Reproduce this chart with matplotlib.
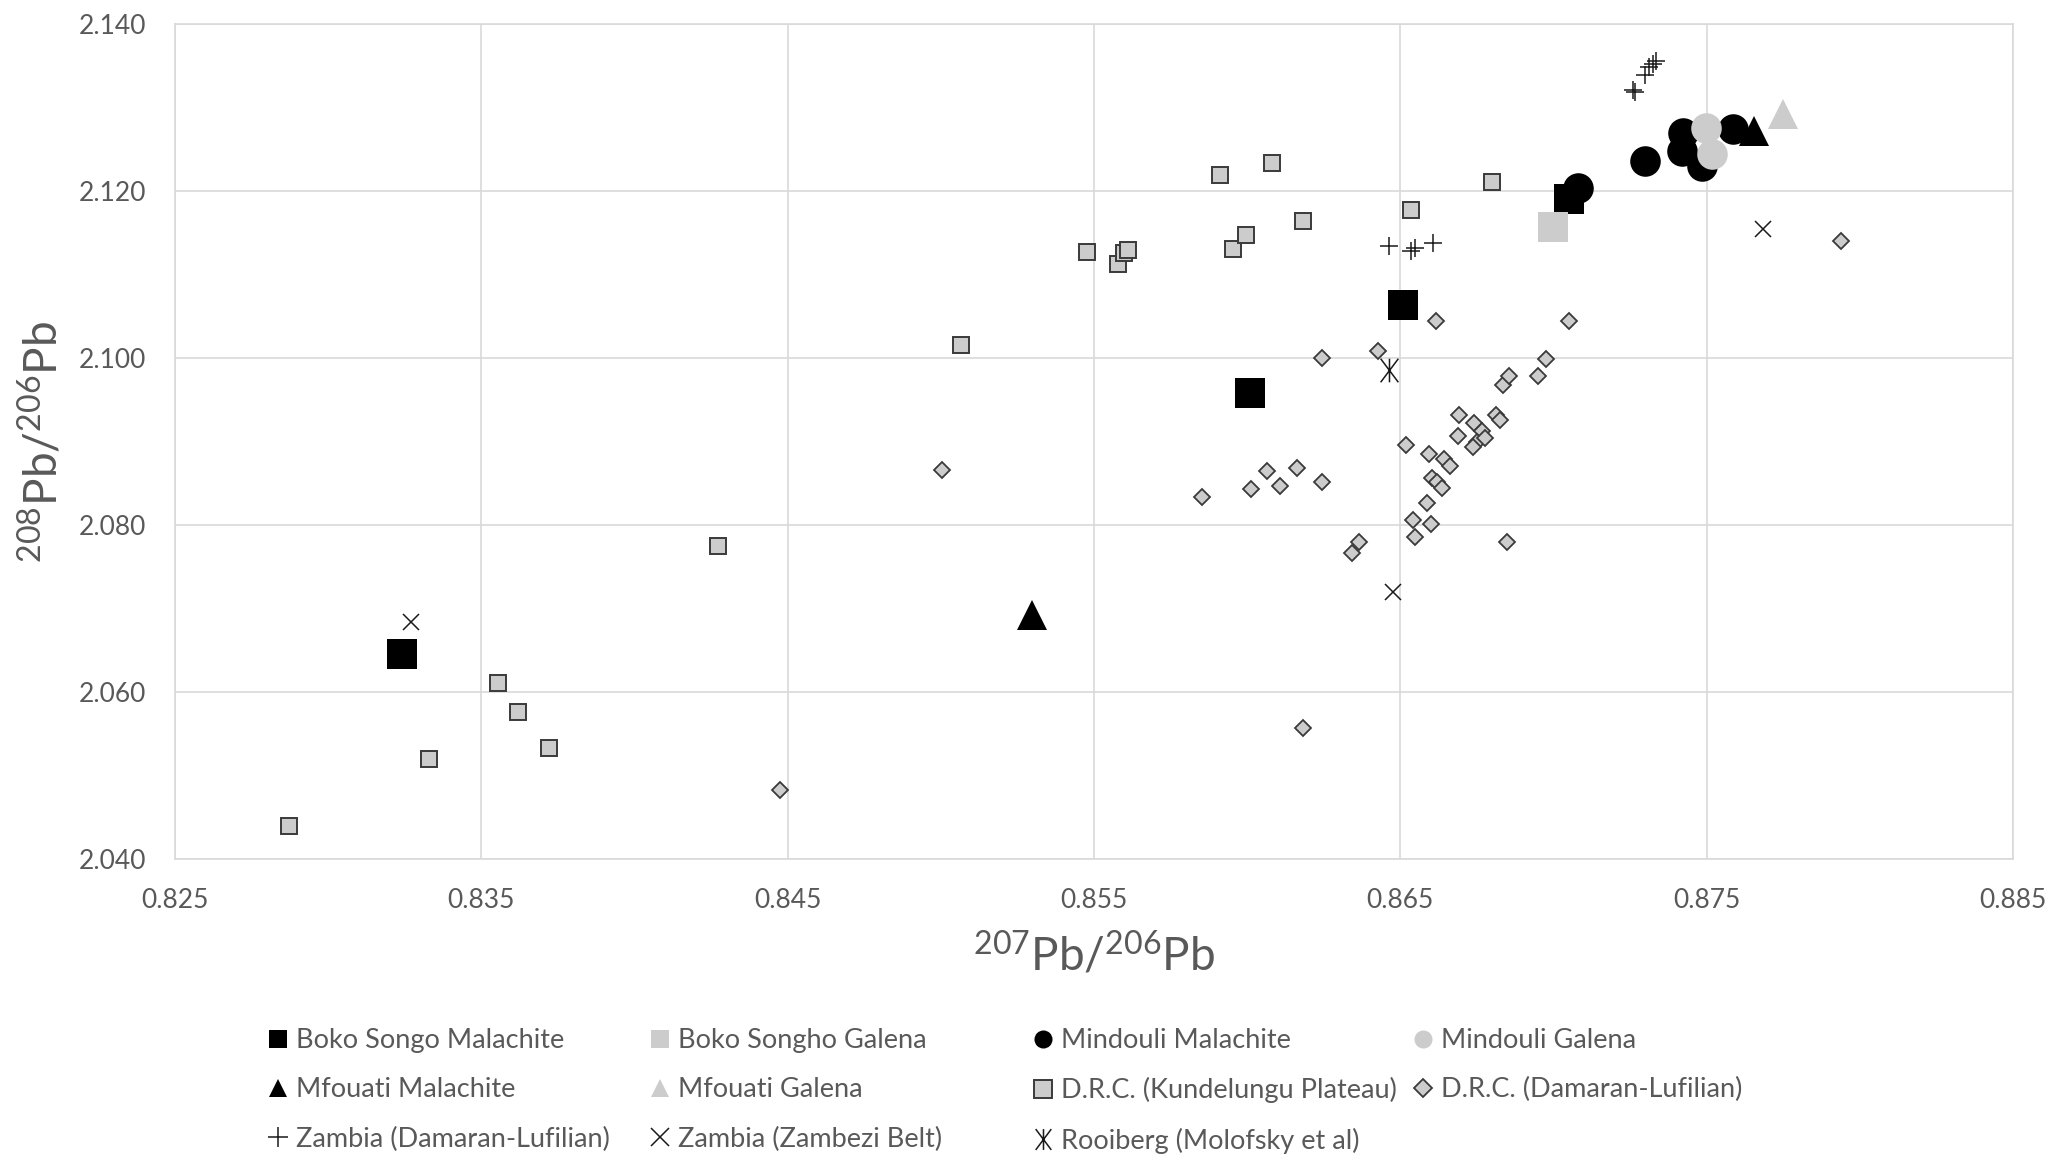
import matplotlib
matplotlib.use("Agg")
import matplotlib.pyplot as plt
from matplotlib.lines import Line2D
from matplotlib.path import Path

plt.rcParams['font.family'] = ['Lato', 'DejaVu Sans']
plt.rcParams['mathtext.fontset'] = 'custom'
plt.rcParams['mathtext.rm'] = 'Lato'
plt.rcParams['mathtext.it'] = 'Lato:italic'
plt.rcParams['mathtext.bf'] = 'Lato:bold'

# ---------------- data ----------------
boko_mal_x = [0.8324, 0.8601, 0.8651, 0.8705]
boko_mal_y = [2.0645, 2.0958, 2.1063, 2.1191]

boko_gal_x = [0.8700]
boko_gal_y = [2.1157]

mind_mal_x = [0.8708, 0.8730, 0.87424, 0.87418, 0.87486, 0.87586]
mind_mal_y = [2.1204, 2.1236, 2.1270, 2.1248, 2.1230, 2.1274]

mind_gal_x = [0.87499, 0.87518]
mind_gal_y = [2.1276, 2.1244]

mfou_mal_x = [0.85296, 0.87655]
mfou_mal_y = [2.0692, 2.1272]

mfou_gal_x = [0.87749]
mfou_gal_y = [2.1292]

drc_kund_x = [0.82873, 0.83328, 0.83555, 0.83619, 0.83720, 0.84274, 0.85067,
              0.85477, 0.85578, 0.85597, 0.85610, 0.85911, 0.85953, 0.85997,
              0.86081, 0.86182, 0.86535, 0.86800]
drc_kund_y = [2.04395, 2.05202, 2.06108, 2.05760, 2.05329, 2.07745, 2.10152,
              2.11268, 2.11129, 2.11260, 2.11296, 2.12197, 2.11308, 2.11468,
              2.12337, 2.11639, 2.11771, 2.12113]

drc_dam_x = [0.84475, 0.85004, 0.85852, 0.86013, 0.86066, 0.86106, 0.86164,
             0.86243, 0.86243, 0.86426, 0.86618, 0.86520, 0.86593, 0.86644,
             0.86663, 0.86605, 0.86619, 0.86637, 0.86586, 0.86542, 0.86601,
             0.86549, 0.86364, 0.86343, 0.86849, 0.86182, 0.86692, 0.86688,
             0.86741, 0.86765, 0.86750, 0.86738, 0.86775, 0.86811, 0.86826,
             0.86836, 0.86855, 0.86949, 0.86974, 0.87049, 0.87940]
drc_dam_y = [2.04822, 2.08656, 2.08335, 2.08436, 2.08642, 2.08472, 2.08679,
             2.08518, 2.10000, 2.10087, 2.10445, 2.08954, 2.08853, 2.08794,
             2.08702, 2.08564, 2.08518, 2.08440, 2.08266, 2.08060, 2.08014,
             2.07853, 2.07798, 2.07670, 2.07798, 2.05569, 2.09312, 2.09060,
             2.09220, 2.09128, 2.09000, 2.08931, 2.09046, 2.09321, 2.09252,
             2.09680, 2.09790, 2.09780, 2.09990, 2.10447, 2.11397]

zam_dl_x = [0.86462, 0.86535, 0.86548, 0.86608, 0.87261, 0.87267, 0.87299,
            0.87311, 0.87324, 0.87336]
zam_dl_y = [2.11336, 2.11280, 2.11320, 2.11380, 2.13210, 2.13180, 2.13390,
            2.13480, 2.13520, 2.13560]

zam_zb_x = [0.83271, 0.86477, 0.87683]
zam_zb_y = [2.06838, 2.07197, 2.11541]

rooi_x = [0.86462]
rooi_y = [2.09852]

x_ticks = [0.825, 0.835, 0.845, 0.855, 0.865, 0.875, 0.885]
y_ticks = [2.040, 2.060, 2.080, 2.100, 2.120, 2.140]

labels = ["Boko Songo Malachite", "Boko Songho Galena", "Mindouli Malachite",
          "Mindouli Galena", "Mfouati Malachite", "Mfouati Galena",
          "D.R.C. (Kundelungu Plateau)", "D.R.C. (Damaran-Lufilian)",
          "Zambia (Damaran-Lufilian)", "Zambia (Zambezi Belt)",
          "Rooiberg (Molofsky et al)"]

# ---------------- styles ----------------
BLACK = '#000000'
GREY = '#cccccc'
EDGE = '#3a3a3a'
TXT = '#595959'
GRID = '#d9d9d9'

# asterisk: an X with a vertical bar through it
ASTER = Path([(0, -1), (0, 1), (-0.75, -1), (0.75, 1), (-0.75, 1), (0.75, -1)],
             [Path.MOVETO, Path.LINETO, Path.MOVETO, Path.LINETO, Path.MOVETO, Path.LINETO])

series = [
    (boko_mal_x, boko_mal_y, dict(marker='s', ms=21.5, mfc=BLACK, mec=BLACK, mew=0)),
    (boko_gal_x, boko_gal_y, dict(marker='s', ms=21.5, mfc=GREY, mec=GREY, mew=0)),
    (mind_mal_x, mind_mal_y, dict(marker='o', ms=22, mfc=BLACK, mec=BLACK, mew=0)),
    (mind_gal_x, mind_gal_y, dict(marker='o', ms=22, mfc=GREY, mec=GREY, mew=0)),
    (mfou_mal_x, mfou_mal_y, dict(marker='^', ms=22, mfc=BLACK, mec=BLACK, mew=0)),
    (mfou_gal_x, mfou_gal_y, dict(marker='^', ms=22, mfc=GREY, mec=GREY, mew=0)),
    (drc_kund_x, drc_kund_y, dict(marker='s', ms=12, mfc=GREY, mec=EDGE, mew=1.4)),
    (drc_dam_x, drc_dam_y, dict(marker='D', ms=8.6, mfc=GREY, mec=EDGE, mew=1.3)),
    (zam_dl_x, zam_dl_y, dict(marker='+', ms=13, mfc='none', mec='#1a1a1a', mew=1.1)),
    (zam_zb_x, zam_zb_y, dict(marker='x', ms=12, mfc='none', mec='#1a1a1a', mew=1.1)),
    (rooi_x, rooi_y, dict(marker=ASTER, ms=17, mfc='none', mec='#1a1a1a', mew=1.1)),
]

legend_styles = [
    dict(marker='s', ms=13, mfc=BLACK, mec=BLACK, mew=0),
    dict(marker='s', ms=13, mfc=GREY, mec=GREY, mew=0),
    dict(marker='o', ms=13, mfc=BLACK, mec=BLACK, mew=0),
    dict(marker='o', ms=13, mfc=GREY, mec=GREY, mew=0),
    dict(marker='^', ms=13, mfc=BLACK, mec=BLACK, mew=0),
    dict(marker='^', ms=13, mfc=GREY, mec=GREY, mew=0),
    dict(marker='s', ms=13, mfc=GREY, mec=EDGE, mew=1.4),
    dict(marker='D', ms=9, mfc=GREY, mec=EDGE, mew=1.3),
    dict(marker='+', ms=15, mfc='none', mec='#1a1a1a', mew=1.1),
    dict(marker='x', ms=13, mfc='none', mec='#1a1a1a', mew=1.1),
    dict(marker=ASTER, ms=15, mfc='none', mec='#1a1a1a', mew=1.1),
]

# ---------------- figure ----------------
W, H = 2053, 1155
fig = plt.figure(figsize=(W / 100, H / 100), dpi=100)
ax_l, ax_r, ax_t, ax_b = 175, 2013, 24, 859
ax = fig.add_axes([ax_l / W, 1 - ax_b / H, (ax_r - ax_l) / W, (ax_b - ax_t) / H])

for (xs, ys, st), lab in zip(series, labels):
    ax.plot(xs, ys, linestyle='none', label=lab, **st)

ax.set_xlim(x_ticks[0], x_ticks[-1])
ax.set_ylim(y_ticks[0], y_ticks[-1])
ax.set_xticks(x_ticks)
ax.set_yticks(y_ticks)
ax.set_xticklabels([f"{v:.3f}" for v in x_ticks])
ax.set_yticklabels([f"{v:.3f}" for v in y_ticks])
ax.tick_params(axis='both', length=0, labelsize=19, labelcolor=TXT)
ax.tick_params(axis='x', pad=21)
ax.tick_params(axis='y', pad=21)
ax.grid(True, color=GRID, linewidth=1.2)
ax.set_axisbelow(True)
for sp in ax.spines.values():
    sp.set_color(GRID)
    sp.set_linewidth(1.2)

fig.text(1094 / W, 1 - 955 / H, r'$\mathregular{^{207}}$Pb/$\mathregular{^{206}}$Pb',
         ha='center', va='center', fontsize=33, color=TXT)
fig.text(42 / W, 1 - ((ax_t + ax_b) / 2) / H, r'$\mathregular{^{208}}$Pb/$\mathregular{^{206}}$Pb',
         ha='center', va='center', rotation=90, fontsize=33, color=TXT)

# ---------------- legend (row-major like the original, 4 columns) ----------------
handles = [Line2D([], [], linestyle='none', **st) for st in legend_styles]
ncol = 4
col_marker_x = [278, 660, 1043, 1423]
fs = 19.5
hl = 0.6
for c in range(ncol):
    idx = list(range(c, len(labels), ncol))
    left = col_marker_x[c] - hl * fs * 100 / 72 / 2
    fig.legend([handles[i] for i in idx], [labels[i] for i in idx],
               loc='upper left', bbox_to_anchor=(left / W, 1 - 1028 / H),
               frameon=False, fontsize=fs, labelcolor=TXT, borderpad=0,
               borderaxespad=0, handlelength=hl, handletextpad=0.36,
               labelspacing=0.9, numpoints=1)

fig.savefig('out.png', dpi=100)
